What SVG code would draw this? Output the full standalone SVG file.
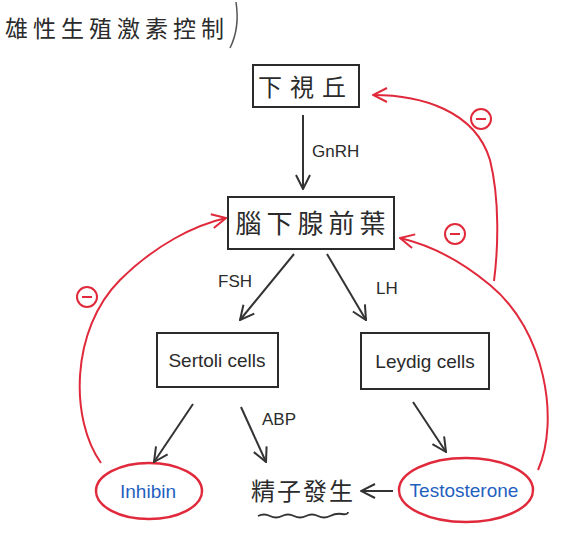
<svg xmlns="http://www.w3.org/2000/svg" width="582" height="558" viewBox="0 0 582 558">
<defs>
<style>
.box{fill:none;stroke:#2b2b2b;stroke-width:2}
.cjk{font-family:"Noto Sans CJK TC","Noto Sans CJK SC",sans-serif;fill:#2b2b2b}
.lat{font-family:"Liberation Sans","DejaVu Sans",sans-serif;fill:#2b2b2b}
.blue{font-family:"Liberation Sans","DejaVu Sans",sans-serif;fill:#1f5fc0}
.arr{fill:none;stroke:#333;stroke-width:2}
.red{fill:none;stroke:#e02a3c;stroke-width:2}
</style>
<marker id="ah" viewBox="0 0 16 16" refX="15" refY="8" markerWidth="16" markerHeight="16" markerUnits="userSpaceOnUse" orient="auto">
<path d="M1,1 L15,8 L1,15" fill="none" stroke="#333" stroke-width="2"/>
</marker>
<marker id="rh" viewBox="0 0 16 16" refX="15" refY="8" markerWidth="16" markerHeight="16" markerUnits="userSpaceOnUse" orient="auto">
<path d="M1,1 L15,8 L1,15" fill="none" stroke="#e02a3c" stroke-width="2"/>
</marker>
</defs>
<rect width="582" height="558" fill="#ffffff"/>
<text class="cjk" x="5" y="37" font-size="23" letter-spacing="5">雄性生殖激素控制</text>
<path d="M236,2 Q240,28 230,48" fill="none" stroke="#555" stroke-width="1.5"/>

<g id="hypothalamus">
<rect class="box" x="253" y="65" width="106" height="42"/>
<text class="cjk" x="306" y="96" font-size="24" text-anchor="middle" letter-spacing="8">下視丘</text>
</g>
<g id="pituitary">
<rect class="box" x="228" y="197" width="166" height="52"/>
<text class="cjk" x="313" y="233" font-size="26" text-anchor="middle" letter-spacing="5">腦下腺前葉</text>
</g>
<g id="sertoli">
<rect class="box" x="157" y="333" width="121" height="54"/>
<text class="lat" x="217" y="367" font-size="19" text-anchor="middle">Sertoli cells</text>
</g>
<g id="leydig">
<rect class="box" x="361" y="333" width="128" height="56"/>
<text class="lat" x="425" y="368" font-size="19" text-anchor="middle">Leydig cells</text>
</g>
<g id="inhibin">
<ellipse cx="149" cy="491" rx="53" ry="28" fill="none" stroke="#e02a3c" stroke-width="2.5"/>
<text class="blue" x="148" y="498" font-size="19" text-anchor="middle">Inhibin</text>
</g>
<g id="spermatogenesis">
<text class="cjk" x="303" y="500" font-size="24" text-anchor="middle" letter-spacing="2">精子發生</text>
<path d="M258,516 q6,-3 12,0 t12,0 t12,0 t12,0 t12,0 t12,0 t12,-2 t6,-2" fill="none" stroke="#333" stroke-width="1.8"/>
</g>
<g id="testosterone">
<ellipse cx="466" cy="490" rx="67" ry="32" fill="none" stroke="#e02a3c" stroke-width="2.5"/>
<text class="blue" x="464" y="497" font-size="19" text-anchor="middle">Testosterone</text>
</g>

<g id="connectors">
<line class="arr" x1="303" y1="115" x2="303" y2="189" marker-end="url(#ah)"/>
<text class="lat" x="312" y="157" font-size="17">GnRH</text>
<line class="arr" x1="294" y1="254" x2="240" y2="320" marker-end="url(#ah)"/>
<text class="lat" x="218" y="287" font-size="17">FSH</text>
<line class="arr" x1="327" y1="254" x2="366" y2="320" marker-end="url(#ah)"/>
<text class="lat" x="376" y="294" font-size="17">LH</text>
<line class="arr" x1="193" y1="404" x2="154" y2="462" marker-end="url(#ah)"/>
<line class="arr" x1="241" y1="407" x2="266" y2="462" marker-end="url(#ah)"/>
<text class="lat" x="262" y="425" font-size="17">ABP</text>
<line class="arr" x1="413" y1="402" x2="446" y2="452" marker-end="url(#ah)"/>
<line class="arr" x1="393" y1="491" x2="361" y2="491" marker-end="url(#ah)"/>

<path class="red" d="M101,463 C70,420 70,330 120,280 C155,245 195,225 226,218" marker-end="url(#rh)"/>
<circle class="red" cx="87" cy="297" r="10"/>
<line class="red" x1="82" y1="297" x2="92" y2="297"/>

<path class="red" d="M538,470 C560,420 545,330 490,285 C460,260 430,245 400,238" marker-end="url(#rh)"/>
<circle class="red" cx="455" cy="234" r="10"/>
<line class="red" x1="450" y1="234" x2="460" y2="234"/>

<path class="red" d="M494,281 C498,250 500,200 490,160 C475,110 420,95 373,95" marker-end="url(#rh)"/>
<circle class="red" cx="481" cy="119" r="10"/>
<line class="red" x1="476" y1="119" x2="486" y2="119"/>
</g>
</svg>
